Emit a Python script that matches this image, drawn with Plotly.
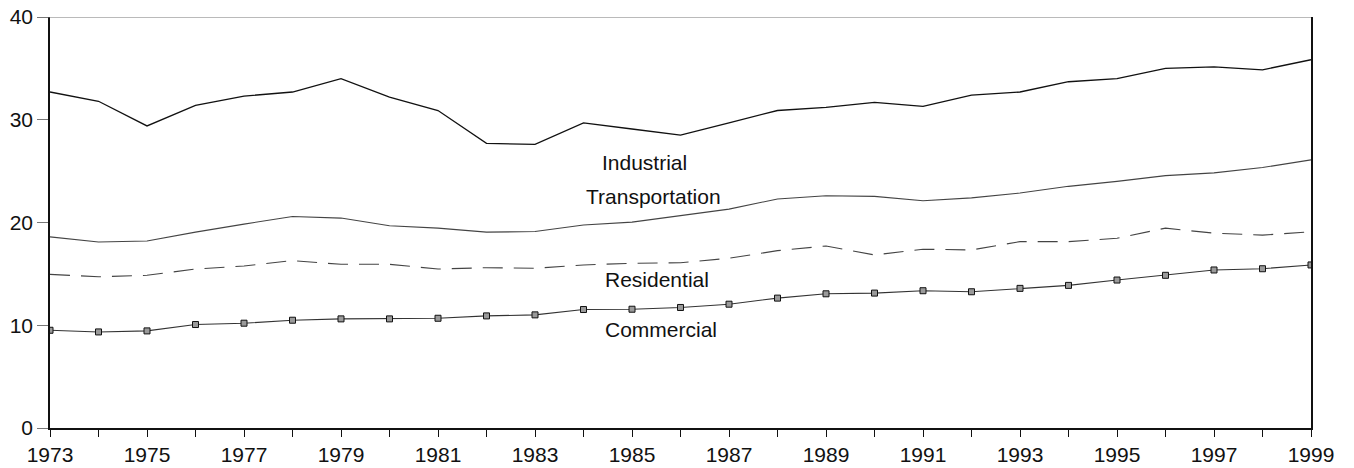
import plotly.graph_objects as go

years = list(range(1973, 2000))

industrial = [32.7, 31.8, 29.4, 31.4, 32.3, 32.7, 34.0, 32.2, 30.9, 27.7, 27.6,
              29.7, 29.1, 28.5, 29.7, 30.9, 31.2, 31.7, 31.3, 32.4, 32.7, 33.7,
              34.0, 35.0, 35.15, 34.86, 35.84]
transportation = [18.6, 18.1, 18.2, 19.06, 19.84, 20.59, 20.43, 19.68, 19.45, 19.06,
                  19.12, 19.75, 20.04, 20.7, 21.3, 22.29, 22.6, 22.54, 22.12, 22.4,
                  22.87, 23.52, 24.0, 24.56, 24.83, 25.35, 26.1]
residential = [14.95, 14.72, 14.86, 15.47, 15.77, 16.29, 15.93, 15.93, 15.47, 15.6,
               15.54, 15.87, 16.03, 16.09, 16.52, 17.26, 17.72, 16.84, 17.4, 17.33,
               18.14, 18.14, 18.47, 19.45, 18.96, 18.77, 19.09]
commercial = [9.51, 9.35, 9.45, 10.07, 10.2, 10.49, 10.62, 10.62, 10.68, 10.91,
              11.01, 11.53, 11.56, 11.73, 12.05, 12.64, 13.06, 13.13, 13.36, 13.26,
              13.59, 13.88, 14.4, 14.86, 15.38, 15.5, 15.87]

x_tick_text = [str(y) if y % 2 == 1 else "" for y in years]
y_ticks = [0, 10, 20, 30, 40]

# series label text and placement (left edge, vertical centre) in data units
label_names = ["Industrial", "Transportation", "Residential", "Commercial"]
label_x = [1984.35, 1984.0, 1984.41, 1984.41]
label_y = [25.85, 22.5, 14.5, 9.6]

FONT = "Liberation Sans, Arial, sans-serif"
FS = 21

fig = go.Figure()
fig.add_trace(go.Scatter(x=years, y=industrial, mode="lines", name="Industrial",
                         line=dict(color="#111111", width=1.3)))
fig.add_trace(go.Scatter(x=years, y=transportation, mode="lines", name="Transportation",
                         line=dict(color="#444444", width=1.1)))
fig.add_trace(go.Scatter(x=years, y=residential, mode="lines", name="Residential",
                         line=dict(color="#444444", width=1.1, dash="20px,11px")))
fig.add_trace(go.Scatter(x=years, y=commercial, mode="lines+markers", name="Commercial",
                         line=dict(color="#333333", width=1.1),
                         marker=dict(symbol="square", size=6, color="#9a9a9a",
                                     line=dict(color="#111111", width=1))))

for name, lx, ly in zip(label_names, label_x, label_y):
    fig.add_annotation(x=lx, y=ly, text=name, showarrow=False, xanchor="left",
                       yanchor="middle", font=dict(family=FONT, size=FS, color="#111111"))

# thin grey frame line along the top of the plot
fig.add_shape(type="line", xref="paper", yref="y", x0=-0.009, x1=1, y0=40, y1=40,
              line=dict(color="#777777", width=1))

fig.update_layout(
    width=1354, height=468,
    margin=dict(l=50, r=43, t=17, b=40, autoexpand=False),
    paper_bgcolor="white", plot_bgcolor="white",
    showlegend=False,
    font=dict(family=FONT, size=FS, color="#111111"),
)
fig.update_xaxes(
    range=[1973, 1999], tickmode="array", tickvals=years, ticktext=x_tick_text,
    ticks="outside", ticklen=7, tickcolor="#111111", tickwidth=1,
    showline=True, linecolor="#111111", linewidth=1.5, showgrid=False, zeroline=False,
    tickfont=dict(size=FS), automargin=False,
)
fig.update_yaxes(
    range=[0, 40], tickmode="array", tickvals=y_ticks,
    ticks="outside", ticklen=11, tickcolor="#777777", tickwidth=1,
    showline=True, linecolor="#111111", linewidth=1.5, mirror=True,
    showgrid=False, zeroline=False, tickfont=dict(size=FS), automargin=False,
)

fig.write_html("out.html")
